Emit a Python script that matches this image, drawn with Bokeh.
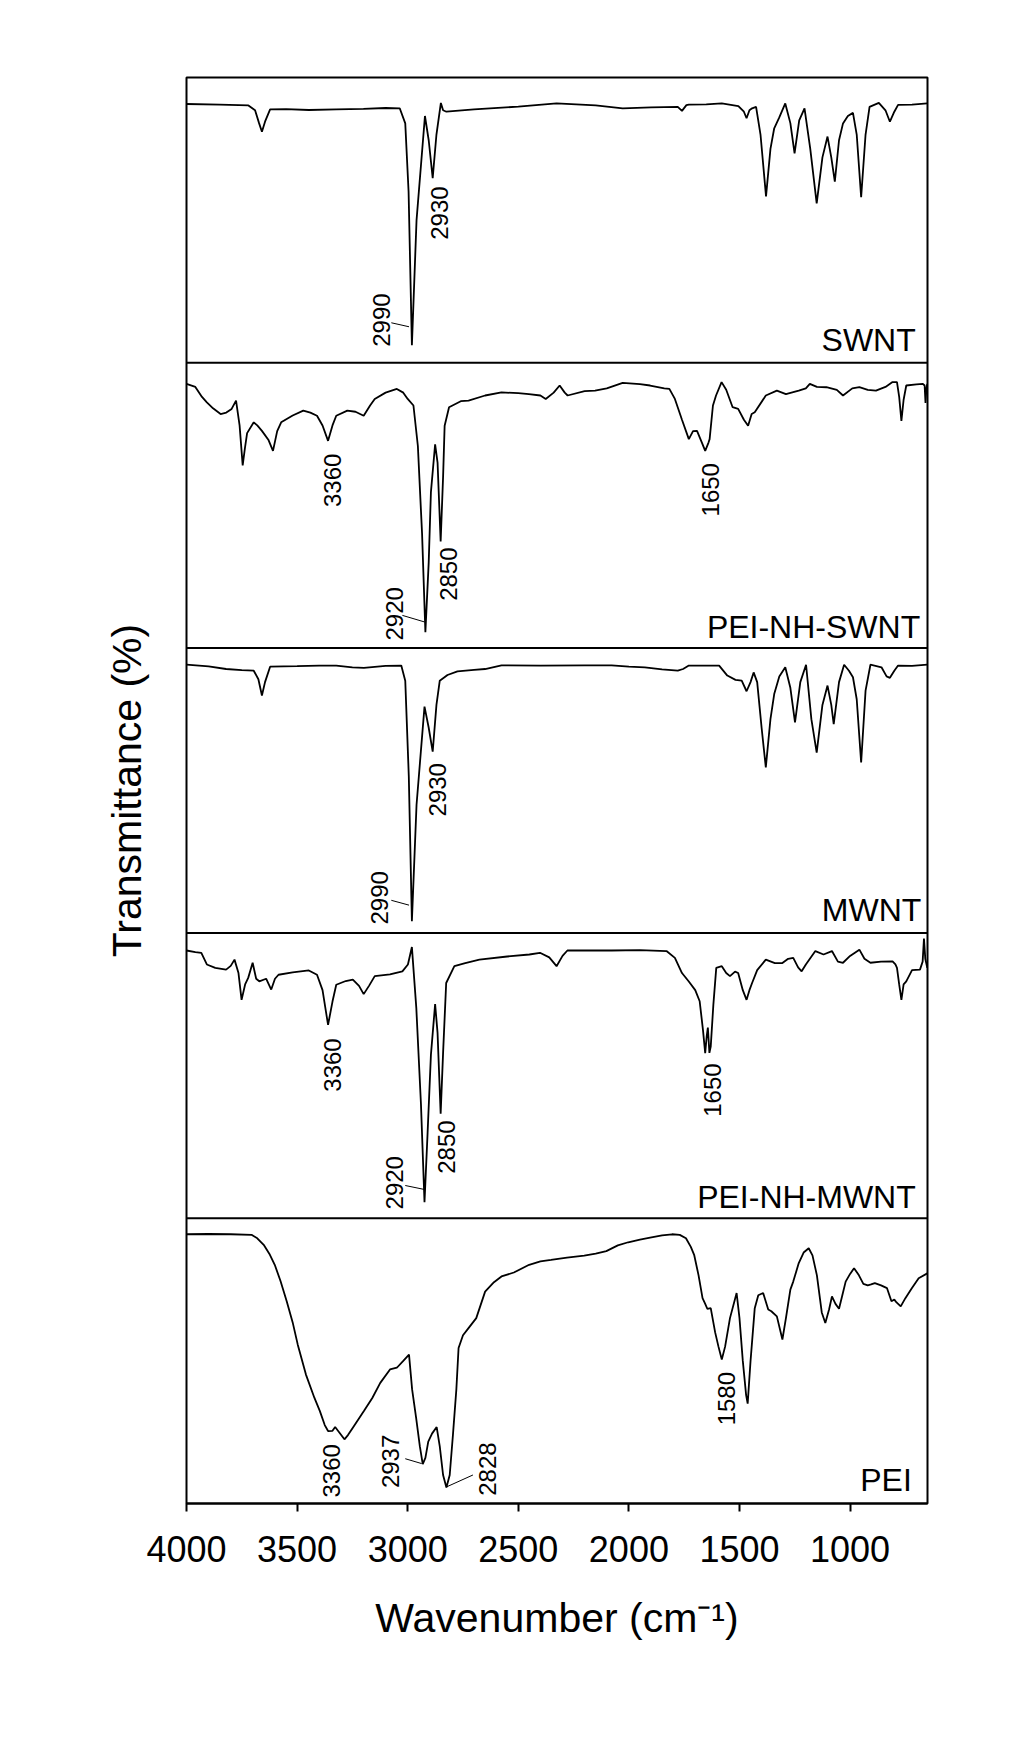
import math
from bokeh.plotting import figure
from bokeh.models import Range1d, FixedTicker, Span, ColumnDataSource
from bokeh.core.properties import value
from bokeh.embed import file_html
from bokeh.resources import INLINE

# ---------------- data (wavenumber in cm-1, transmittance as % of panel height) ----------------
names = ["SWNT", "PEI-NH-SWNT", "MWNT", "PEI-NH-MWNT", "PEI"]

swnt_wn = [4000, 3850, 3720, 3690, 3672, 3659, 3645, 3622, 3550, 3447, 3323, 3200, 3100, 3036, 3011,
           2996, 2981, 2960, 2922, 2905, 2887, 2870, 2850, 2840, 2825, 2700, 2500, 2327, 2150, 2028,
           1900, 1779, 1760, 1740, 1729, 1650, 1580, 1505, 1480, 1468, 1455, 1443, 1425, 1405, 1380,
           1360, 1343, 1320, 1293, 1270, 1251, 1230, 1206, 1180, 1151, 1125, 1102, 1085, 1069, 1050,
           1032, 1010, 987, 970, 950, 930, 912, 870, 840, 820, 800, 783, 720, 651]
swnt_t = [90.7, 90.5, 90.2, 88.5, 84.0, 81.0, 84.5, 88.8, 88.9, 88.6, 88.8, 89.0, 89.3, 89.2, 83.9,
          60.0, 6.1, 50.0, 86.5, 78.0, 64.7, 80.0, 91.1, 88.5, 88.0, 88.8, 89.8, 90.9, 90.2, 89.2,
          89.5, 89.7, 88.3, 90.3, 90.5, 90.6, 90.9, 90.0, 88.0, 85.7, 88.5, 89.2, 89.7, 80.0, 58.3,
          75.0, 82.2, 86.0, 90.9, 84.0, 73.4, 85.0, 89.2, 75.0, 55.9, 72.0, 79.3, 72.0, 63.5, 78.0,
          83.9, 86.5, 87.6, 80.0, 58.0, 80.0, 89.7, 91.1, 88.5, 84.5, 88.0, 90.4, 90.5, 90.9]

pswnt_wn = [4000, 3960, 3930, 3908, 3880, 3846, 3820, 3796, 3776, 3760, 3746, 3736, 3726, 3696, 3680,
            3659, 3630, 3609, 3590, 3572, 3520, 3472, 3440, 3410, 3385, 3360, 3340, 3323, 3273, 3236,
            3199, 3170, 3149, 3100, 3049, 3020, 3000, 2974, 2954, 2935, 2920, 2905, 2895, 2876, 2865,
            2851, 2840, 2833, 2813, 2760, 2725, 2650, 2576, 2500, 2452, 2400, 2376, 2340, 2313, 2290,
            2277, 2200, 2153, 2100, 2028, 1950, 1904, 1840, 1817, 1792, 1760, 1729, 1710, 1692, 1670,
            1655, 1640, 1635, 1620, 1606, 1581, 1560, 1531, 1506, 1480, 1461, 1445, 1431, 1381, 1331,
            1290, 1232, 1200, 1182, 1150, 1107, 1060, 1032, 990, 958, 920, 883, 840, 808, 788,
            778, 768, 758, 746, 700, 671, 663, 659, 655, 651]
pswnt_t = [92.6, 91.5, 88.0, 86.1, 84.0, 82.0, 82.5, 83.8, 86.7, 78.0, 64.0, 70.0, 75.3, 79.1, 78.0,
           76.1, 73.0, 69.1, 76.0, 79.1, 81.5, 83.2, 82.5, 81.4, 78.0, 72.6, 78.0, 81.4, 83.2, 82.8,
           81.4, 85.0, 87.3, 89.5, 90.8, 89.5, 87.3, 85.0, 70.8, 40.0, 5.5, 30.0, 54.6, 71.4, 65.0,
           37.3, 60.0, 77.9, 84.4, 86.5, 86.7, 88.5, 89.6, 89.3, 89.0, 88.5, 87.3, 89.5, 92.0, 89.5,
           88.5, 90.0, 90.2, 91.0, 92.9, 92.5, 92.0, 91.0, 90.8, 87.3, 80.0, 73.2, 76.0, 76.1, 72.0,
           69.1, 72.0, 73.2, 85.0, 88.5, 93.2, 90.5, 84.4, 83.8, 80.0, 77.9, 82.0, 82.6, 88.5, 90.2,
           89.0, 90.2, 91.0, 92.6, 91.5, 91.4, 90.5, 88.5, 91.0, 91.4, 90.5, 90.2, 91.5, 93.2, 93.2,
           88.0, 79.6, 87.0, 92.0, 92.4, 92.6, 92.0, 85.9, 91.0, 92.6]

mwnt_wn = [4000, 3900, 3821, 3750, 3696, 3675, 3659, 3645, 3622, 3500, 3400, 3323, 3250, 3198, 3100,
           3029, 3011, 2995, 2981, 2960, 2924, 2905, 2887, 2870, 2855, 2820, 2775, 2700, 2650, 2576,
           2400, 2200, 2078, 2000, 1928, 1850, 1779, 1755, 1729, 1650, 1592, 1555, 1518, 1490, 1468,
           1450, 1436, 1420, 1400, 1381, 1360, 1343, 1320, 1293, 1270, 1249, 1225, 1199, 1175, 1151,
           1125, 1102, 1085, 1074, 1050, 1027, 1005, 987, 970, 950, 930, 908, 858, 835, 820,
           800, 783, 720, 651]
mwnt_t = [94.1, 93.5, 92.6, 92.2, 92.0, 89.0, 83.3, 88.0, 93.4, 93.6, 93.8, 93.8, 93.2, 93.0, 93.7,
          93.8, 88.5, 55.0, 4.2, 45.0, 79.4, 72.0, 63.6, 80.0, 88.5, 90.5, 91.8, 92.3, 92.6, 93.9,
          93.8, 93.9, 93.9, 93.4, 93.2, 92.5, 92.0, 92.6, 93.8, 93.8, 93.8, 90.3, 88.8, 88.5, 84.8,
          88.0, 91.4, 88.0, 72.0, 58.1, 75.0, 83.8, 90.0, 93.2, 86.0, 73.9, 88.0, 94.1, 75.0, 63.3,
          80.0, 86.8, 80.0, 73.3, 88.0, 94.1, 92.0, 89.7, 82.0, 59.8, 85.0, 94.1, 93.2, 90.0, 89.5,
          92.0, 93.8, 93.7, 94.1]

pmwnt_wn = [4000, 3960, 3933, 3908, 3870, 3821, 3800, 3783, 3765, 3751, 3735, 3721, 3701, 3685, 3671,
            3640, 3617, 3600, 3584, 3520, 3447, 3410, 3385, 3360, 3340, 3323, 3280, 3248, 3220, 3199,
            3175, 3149, 3080, 3024, 2999, 2981, 2961, 2940, 2924, 2910, 2895, 2876, 2865, 2851, 2840,
            2826, 2789, 2740, 2676, 2550, 2450, 2402, 2360, 2327, 2300, 2278, 2200, 2078, 1950, 1830,
            1792, 1760, 1730, 1700, 1680, 1665, 1655, 1648, 1643, 1636, 1630, 1618, 1605, 1580, 1560,
            1543, 1520, 1506, 1485, 1468, 1455, 1443, 1420, 1381, 1340, 1306, 1280, 1257, 1235, 1219,
            1200, 1157, 1120, 1082, 1055, 1032, 1000, 958, 935, 908, 860, 808, 795, 788, 778,
            768, 758, 746, 720, 684, 672, 666, 660, 651]
pmwnt_t = [93.9, 93.3, 93.1, 89.0, 87.8, 87.2, 88.5, 90.7, 86.0, 76.6, 82.0, 84.3, 89.6, 84.0, 83.1,
           84.0, 80.2, 84.0, 85.4, 86.2, 86.9, 85.4, 80.0, 67.8, 76.0, 81.9, 83.2, 83.7, 81.5, 78.6,
           81.5, 84.9, 85.5, 86.6, 89.0, 95.1, 73.7, 40.0, 5.6, 30.0, 57.3, 75.1, 65.0, 36.7, 58.0,
           82.5, 88.4, 89.5, 90.7, 91.8, 92.5, 93.1, 91.5, 88.4, 92.0, 93.9, 93.9, 93.9, 94.0, 93.7,
           91.3, 86.0, 83.1, 80.0, 76.1, 66.0, 57.9, 64.0, 66.9, 58.0, 60.2, 75.0, 87.8, 88.4, 86.0,
           84.9, 86.5, 86.0, 80.0, 76.6, 80.0, 82.5, 87.0, 90.7, 89.5, 89.5, 91.0, 91.3, 88.0, 86.6,
           89.0, 93.7, 92.5, 93.7, 90.0, 89.6, 92.0, 94.2, 91.0, 89.6, 90.0, 90.1, 89.0, 87.8, 82.0,
           76.6, 82.0, 83.1, 87.0, 87.2, 90.0, 98.1, 91.0, 87.8]

pei_wn = [4000, 3900, 3800, 3706, 3680, 3651, 3625, 3601, 3575, 3547, 3520, 3497, 3460, 3422, 3397,
          3375, 3360, 3340, 3328, 3310, 3286, 3270, 3248, 3198, 3160, 3124, 3080, 3049, 3020, 2994,
          2980, 2962, 2945, 2932, 2920, 2907, 2890, 2869, 2855, 2840, 2825, 2810, 2795, 2780, 2770,
          2750, 2725, 2690, 2650, 2610, 2576, 2520, 2451, 2400, 2352, 2280, 2202, 2150, 2102, 2050,
          2003, 1950, 1904, 1850, 1805, 1770, 1742, 1720, 1705, 1685, 1667, 1655, 1645, 1630, 1610,
          1595, 1580, 1565, 1543, 1513, 1500, 1485, 1470, 1463, 1450, 1431, 1415, 1393, 1370, 1356,
          1331, 1306, 1290, 1270, 1257, 1232, 1210, 1187, 1170, 1150, 1128, 1112, 1095, 1082, 1066,
          1050, 1035, 1020, 1000, 982, 960, 940, 920, 905, 888, 860, 833, 813, 800, 790,
          771, 750, 721, 690, 651]
pei_t = [94.4, 94.5, 94.4, 94.2, 93.0, 90.7, 87.5, 83.7, 78.0, 70.9, 63.5, 55.7, 45.2, 37.1, 32.4,
         27.5, 25.4, 25.5, 26.8, 25.0, 22.5, 24.0, 26.6, 32.4, 37.0, 42.3, 47.0, 47.6, 50.0, 52.2,
         40.0, 30.1, 20.0, 13.8, 16.0, 21.7, 24.5, 26.8, 20.0, 10.0, 5.6, 10.0, 24.5, 40.0, 54.5,
         59.0, 61.5, 65.0, 74.3, 77.6, 79.6, 81.0, 83.7, 84.9, 85.4, 86.2, 86.9, 87.6, 88.5, 90.5,
         91.6, 92.5, 93.2, 94.0, 94.4, 94.2, 93.0, 90.0, 87.2, 80.0, 72.0, 70.0, 68.2, 68.5, 60.0,
         55.0, 50.5, 55.0, 65.0, 73.8, 65.0, 50.0, 38.0, 35.0, 50.0, 68.5, 73.0, 73.8, 68.0, 67.4,
         65.6, 57.5, 65.0, 75.0, 77.8, 84.3, 88.0, 89.5, 87.0, 80.0, 67.0, 63.3, 68.0, 72.6, 70.0,
         68.3, 73.0, 77.8, 80.5, 82.5, 80.0, 77.0, 76.5, 76.8, 77.3, 76.5, 75.5, 70.9, 71.5, 70.5,
         69.1, 72.0, 75.5, 79.0, 80.7]

spectra_wn = [swnt_wn, pswnt_wn, mwnt_wn, pmwnt_wn, pei_wn]
spectra_t = [swnt_t, pswnt_t, mwnt_t, pmwnt_t, pei_t]

# peak annotations: panel index (0 = top), wavenumber, bottom of rotated text (%), text
ann_panel = [0, 0, 1, 1, 1, 1, 2, 2, 3, 3, 3, 3, 4, 4, 4, 4]
ann_wn = [3118, 2857, 3340, 3061, 2817, 1629, 3129, 2867, 3340, 3061, 2825, 1622, 3343, 3079, 2638, 1560]
ann_t = [5.6, 43.1, 49.4, 2.6, 16.5, 46.1, 3.0, 40.9, 44.4, 3.1, 15.6, 35.6, 2.1, 5.4, 2.7, 27.4]
ann_text = ["2990", "2930", "3360", "2920", "2850", "1650", "2990", "2930",
            "3360", "2920", "2850", "1650", "3360", "2937", "2828", "1580"]

# leader lines from label to peak
lead_panel = [0, 1, 2, 3, 4, 4]
lead_wn0 = [3074, 3024, 3074, 3011, 3011, 2705]
lead_t0 = [14.0, 11.4, 11.5, 11.5, 15.7, 10.0]
lead_wn1 = [2994, 2924, 2994, 2924, 2937, 2825]
lead_t1 = [12.6, 9.1, 9.8, 10.1, 14.0, 5.8]

# sample name labels (right-aligned)
name_wn = [703, 683, 678, 703, 721]
name_t = [7.8, 7.3, 8.0, 7.4, 8.2]

x_ticks = [4000, 3500, 3000, 2500, 2000, 1500, 1000]

# ---------------- figure ----------------
n = len(names)
H = 100.0  # height of one panel in data units


def offset(k):
    return (n - 1 - k) * H


FONT = "Liberation Sans"

p = figure(frame_width=741, frame_height=1426, output_backend="svg", toolbar_location=None,
           x_range=Range1d(4000, 650), y_range=Range1d(0, n * H),
           min_border_left=186, min_border_top=77, min_border_right=80, min_border_bottom=60,
           background_fill_color="white", border_fill_color="white")
p.xgrid.visible = False
p.ygrid.visible = False
p.outline_line_color = "black"
p.outline_line_width = 2

for k in range(n):
    src = ColumnDataSource(dict(x=spectra_wn[k], y=[v + offset(k) for v in spectra_t[k]]))
    p.line("x", "y", source=src, line_color="black", line_width=1.8)

for k in range(1, n):
    p.add_layout(Span(location=k * H, dimension="width", line_color="black", line_width=2))

ann_src = ColumnDataSource(dict(x=ann_wn, y=[t + offset(k) for t, k in zip(ann_t, ann_panel)], text=ann_text))
p.text("x", "y", text="text", source=ann_src, angle=math.pi / 2, text_align="left",
       text_baseline="middle", text_font=value(FONT), text_font_size="24px", text_color="black")

lead_src = ColumnDataSource(dict(x0=lead_wn0, y0=[t + offset(k) for t, k in zip(lead_t0, lead_panel)],
                                 x1=lead_wn1, y1=[t + offset(k) for t, k in zip(lead_t1, lead_panel)]))
p.segment("x0", "y0", "x1", "y1", source=lead_src, line_color="black", line_width=1)

name_src = ColumnDataSource(dict(x=name_wn, y=[t + offset(k) for k, t in enumerate(name_t)], text=names))
p.text("x", "y", text="text", source=name_src, text_align="right", text_baseline="alphabetic",
       text_font=value(FONT), text_font_size="32px", text_color="black")

# x axis
xa = p.xaxis[0]
xa.ticker = FixedTicker(ticks=x_ticks)
xa.major_label_text_font = FONT
xa.major_label_text_font_size = "36px"
xa.major_label_text_color = "black"
xa.major_label_standoff = 24
xa.major_tick_in = 0
xa.major_tick_out = 8
xa.major_tick_line_width = 2
xa.major_tick_line_color = "black"
xa.minor_tick_line_color = None
xa.axis_line_width = 2
xa.axis_line_color = "black"
xa.axis_label = "Wavenumber (cm\u207b\u00b9)"
xa.axis_label_text_font = FONT
xa.axis_label_text_font_size = "41px"
xa.axis_label_text_font_style = "normal"
xa.axis_label_text_color = "black"
xa.axis_label_standoff = 30

# y axis: label only
ya = p.yaxis[0]
ya.ticker = FixedTicker(ticks=[])
ya.major_tick_in = 0
ya.major_tick_out = 0
ya.minor_tick_line_color = None
ya.major_tick_line_color = None
ya.major_label_standoff = 0
ya.axis_line_color = None
ya.axis_label = "Transmittance (%)"
ya.axis_label_text_font = FONT
ya.axis_label_text_font_size = "41px"
ya.axis_label_text_font_style = "normal"
ya.axis_label_text_color = "black"
ya.axis_label_standoff = 37

open("out.html", "w").write(file_html(p, INLINE))
